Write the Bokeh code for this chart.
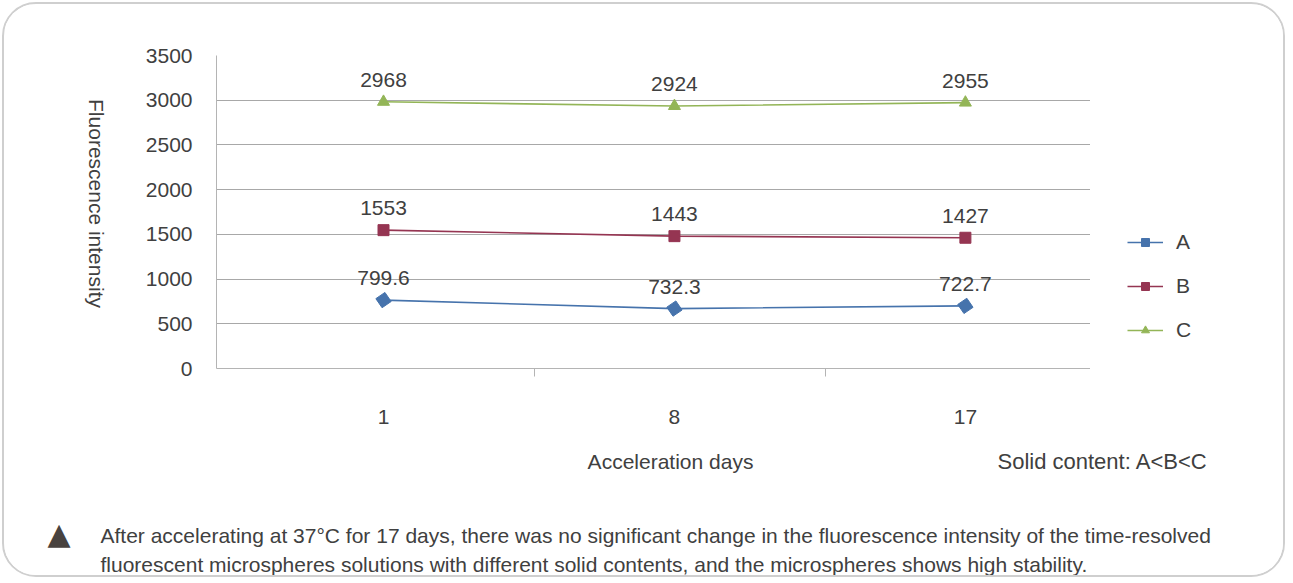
import math
from bokeh.plotting import figure
from bokeh.layouts import column, row
from bokeh.models import (ColumnDataSource, LabelSet, Label, Legend, LegendItem,
                          Range1d, FixedTicker, CustomJSTickFormatter)
from bokeh.core.properties import value
from bokeh.embed import file_html
from bokeh.resources import INLINE

# ---------------- data ----------------
days = ["1", "8", "17"]
series_names = ["A", "B", "C"]
a_values = [765, 670, 700]
b_values = [1547, 1480, 1462]
c_values = [2982, 2935, 2973]
a_labels = ["799.6", "732.3", "722.7"]
b_labels = ["1553", "1443", "1427"]
c_labels = ["2968", "2924", "2955"]
y_ticks = [0, 500, 1000, 1500, 2000, 2500, 3000, 3500]

FONT = "Liberation Sans"
TXT = "#404040"
GRID = "#a8a8a8"
AXIS = "#b4b4b4"
colors = ["#4673ac", "#953552", "#93b557"]
markers = [("square", 11, 0.6), ("square", 11, 0.0), ("triangle", 12, 0.0)]

pos = list(range(len(days)))

# ---------------- main chart ----------------
p = figure(width=956, height=440, output_backend="svg", toolbar_location=None,
           x_range=Range1d(-0.574, 2.43), y_range=Range1d(0, 3500),
           min_border_left=82, min_border_right=0, min_border_top=51,
           min_border_bottom=76)
p.outline_line_color = None
p.background_fill_color = "white"
p.border_fill_color = "white"

p.yaxis.ticker = FixedTicker(ticks=y_ticks)
p.yaxis.major_tick_out = 0
p.yaxis.major_tick_in = 0
p.yaxis.minor_tick_out = 0
p.yaxis.minor_tick_in = 0
p.yaxis.axis_line_color = AXIS
p.yaxis.major_label_text_font = FONT
p.yaxis.major_label_text_font_size = "21px"
p.yaxis.major_label_text_color = TXT
p.yaxis.major_label_standoff = 24

p.xaxis.ticker = FixedTicker(ticks=pos, minor_ticks=[0.52, 1.52])
p.xaxis.formatter = CustomJSTickFormatter(args=dict(labels=days),
                                          code="return labels[Math.round(tick)];")
p.xaxis.major_tick_out = 0
p.xaxis.major_tick_in = 0
p.xaxis.minor_tick_out = 8
p.xaxis.minor_tick_in = 0
p.xaxis.minor_tick_line_color = AXIS
p.xaxis.axis_line_color = AXIS
p.xaxis.major_label_text_font = FONT
p.xaxis.major_label_text_font_size = "21px"
p.xaxis.major_label_text_color = TXT
p.xaxis.major_label_standoff = 33

p.xgrid.grid_line_color = None
p.ygrid.ticker = FixedTicker(ticks=y_ticks)
p.ygrid.grid_line_color = GRID
p.ygrid.grid_line_width = 1

series = [(a_values, a_labels), (b_values, b_labels), (c_values, c_labels)]
sources = []
for (vals, labs), (marker, size, ang), col in zip(series, markers, colors):
    src = ColumnDataSource(dict(x=pos, y=vals, lab=labs))
    sources.append(src)
    p.line("x", "y", source=src, line_color=col, line_width=1.6)
    p.scatter("x", "y", source=src, marker=marker, size=size, angle=ang,
              fill_color=col, line_color=col)
    p.add_layout(LabelSet(x="x", y="y", text="lab", source=src, y_offset=22,
                          text_align="center", text_baseline="middle",
                          text_font=value(FONT), text_font_size="21px",
                          text_color=TXT))


# ---------------- side / text panels ----------------
def text_panel(w, h):
    f = figure(width=w, height=h, output_backend="svg", toolbar_location=None,
               x_range=Range1d(0, 1), y_range=Range1d(0, 1),
               x_axis_location=None, y_axis_location=None, min_border=0)
    f.min_border_left = f.min_border_right = 0
    f.min_border_top = f.min_border_bottom = 0
    f.outline_line_color = None
    f.grid.visible = False
    f.background_fill_color = "white"
    f.border_fill_color = "white"
    return f

def add_text(f, text, x, y, align="left", baseline="middle", size="21px",
             angle=0.0, font=FONT, color=TXT):
    f.add_layout(Label(x=x, y=y, x_units="screen", y_units="screen", text=text,
                       text_align=align, text_baseline=baseline, text_font=font,
                       text_font_size=size, text_color=color, angle=angle))

# y-axis title (its frame is aligned with the chart's frame by the row)
ylab = text_panel(130, 440)
add_text(ylab, "Fluorescence intensity", 92, 165, align="center", angle=-math.pi / 2)

# legend panel: the series are re-used here only as legend keys
# (they fall outside this panel's 0..1 ranges, so only the legend shows)
leg = text_panel(193, 440)
items = []
for name, src, (marker, size, ang), col in zip(series_names, sources, markers, colors):
    ln = leg.line("x", "y", source=src, line_color=col, line_width=1.6)
    sc = leg.scatter("x", "y", source=src, marker=marker, size=size, angle=ang,
                     fill_color=col, line_color=col)
    items.append(LegendItem(label=name, renderers=[ln, sc], index=0))
legend = Legend(items=items, location=(37, 26), orientation="vertical",
                border_line_color=None, background_fill_alpha=0, padding=0,
                margin=0, glyph_width=36, glyph_height=20, label_height=20,
                spacing=20, label_standoff=13,
                label_text_font=FONT, label_text_font_size="21px",
                label_text_color=TXT)
leg.add_layout(legend, "center")

# bottom texts
bottom = text_panel(1279, 131)
add_text(bottom, "Acceleration days", 666, 114, align="center")
add_text(bottom, "Solid content: A<B<C", 993, 114, size="22px")
add_text(bottom, "\u25b2", 54.5, 42, align="center", baseline="alphabetic",
         size="30px", font="DejaVu Sans", color="#48423f")
add_text(bottom, "After accelerating at 37°C for 17 days, there was no significant change "
         "in the fluorescence intensity of the time-resolved", 96, 40)
add_text(bottom, "fluorescent microspheres solutions with different solid contents, and "
         "the microspheres shows high stability.", 96, 11)

layout = column(row(ylab, p, leg, spacing=0), bottom, spacing=0,
                styles={"border": "2px solid #cfcfcf", "border-radius": "34px",
                        "box-sizing": "content-box", "overflow": "hidden",
                        "margin-left": "2px", "margin-top": "2px"})

open("out.html", "w").write(file_html(layout, INLINE))
